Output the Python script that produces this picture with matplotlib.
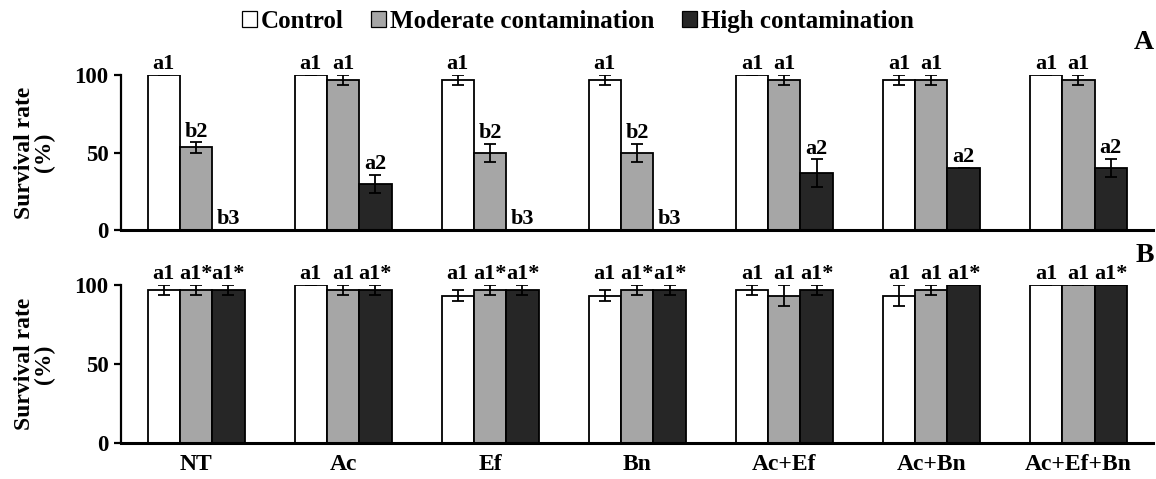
import matplotlib.pyplot as plt
import numpy as np
from matplotlib.patches import Patch

plt.rcParams["font.family"] = ["Liberation Serif", "DejaVu Serif"]
plt.rcParams["font.weight"] = "bold"

GROUPS = ["NT", "Ac", "Ef", "Bn", "Ac+Ef", "Ac+Bn", "Ac+Ef+Bn"]
SERIES = ["Control", "Moderate contamination", "High contamination"]
COLORS = ["#ffffff", "#a6a6a6", "#262626"]

# panel A
a_control = [100.0, 100.0, 96.7, 96.7, 100.0, 96.7, 100.0]
a_control_err = [0.0, 0.0, 3.3, 3.3, 0.0, 3.3, 0.0]
a_moderate = [53.3, 96.7, 50.0, 50.0, 96.7, 96.7, 96.7]
a_moderate_err = [3.3, 3.3, 5.8, 5.8, 3.3, 3.3, 3.3]
a_high = [0.0, 30.0, 0.0, 0.0, 36.7, 40.0, 40.0]
a_high_err = [0.0, 5.8, 0.0, 0.0, 8.8, 0.0, 5.8]
a_labels = [
    ["a1", "a1", "a1", "a1", "a1", "a1", "a1"],
    ["b2", "a1", "b2", "b2", "a1", "a1", "a1"],
    ["b3", "a2", "b3", "b3", "a2", "a2", "a2"],
]

# panel B
b_control = [96.7, 100.0, 93.3, 93.3, 96.7, 93.3, 100.0]
b_control_err = [3.3, 0.0, 3.3, 3.3, 3.3, 6.7, 0.0]
b_moderate = [96.7, 96.7, 96.7, 96.7, 93.3, 96.7, 100.0]
b_moderate_err = [3.3, 3.3, 3.3, 3.3, 6.7, 3.3, 0.0]
b_high = [96.7, 96.7, 96.7, 96.7, 96.7, 100.0, 100.0]
b_high_err = [3.3, 3.3, 3.3, 3.3, 3.3, 0.0, 0.0]
b_labels = [
    ["a1", "a1", "a1", "a1", "a1", "a1", "a1"],
    ["a1*", "a1", "a1*", "a1*", "a1", "a1", "a1"],
    ["a1*", "a1*", "a1*", "a1*", "a1*", "a1*", "a1*"],
]


def draw_panel(ax, values, errors, labels, label_row=None):
    x = np.arange(len(GROUPS))
    width = 0.22
    for i, (vals, errs, labs) in enumerate(zip(values, errors, labels)):
        pos = x + (i - 1) * width
        ax.bar(pos, vals, width=width, color=COLORS[i], edgecolor="black",
               linewidth=1.3, zorder=2)
        ax.errorbar(pos, vals, yerr=errs, fmt="none", ecolor="black",
                    elinewidth=1.3, capsize=4, capthick=1.3, zorder=3)
        for p, v, e, t in zip(pos, vals, errs, labs):
            ty = label_row if label_row is not None else v + e
            ax.annotate(t, (p, ty), xytext=(0, 4), textcoords="offset points",
                        ha="center", va="baseline", fontsize=16, fontweight="bold",
                        annotation_clip=False)
    ax.set_xlim(-0.51, len(GROUPS) - 0.49)
    ax.set_ylim(0, 100)
    ax.set_yticks([0, 50, 100])
    ax.set_xticks(x)
    for s in ["top", "right"]:
        ax.spines[s].set_visible(False)
    ax.spines["left"].set_linewidth(1.6)
    ax.spines["bottom"].set_linewidth(2.2)
    ax.tick_params(axis="y", direction="out", length=5, width=1.6, labelsize=16.5, pad=4)
    ax.tick_params(axis="x", length=0, labelsize=17, pad=8)
    ax.set_ylabel("Survival rate\n(%)", fontsize=17, fontweight="bold", linespacing=0.9)
    ax.yaxis.set_label_coords(-0.064, 0.5)


fig = plt.figure(figsize=(11.56, 4.79), dpi=100)
ax_a = fig.add_axes([0.1047, 0.5198, 0.893, 0.3236])
ax_b = fig.add_axes([0.1047, 0.0752, 0.893, 0.3299])

draw_panel(ax_a, [a_control, a_moderate, a_high],
           [a_control_err, a_moderate_err, a_high_err], a_labels)
draw_panel(ax_b, [b_control, b_moderate, b_high],
           [b_control_err, b_moderate_err, b_high_err], b_labels, label_row=100)
ax_a.set_xticklabels([])
ax_b.set_xticklabels(GROUPS, fontweight="bold")

fig.text(0.998, 0.912, "A", fontsize=20, fontweight="bold", ha="right", va="center")
fig.text(0.998, 0.466, "B", fontsize=20, fontweight="bold", ha="right", va="center")

handles = [Patch(facecolor=c, edgecolor="black", linewidth=0.9) for c in COLORS]
fig.legend(handles, SERIES, loc="center", bbox_to_anchor=(0.5, 0.956), ncol=3,
           frameon=False, handlelength=0.6, handleheight=0.6,
           handletextpad=0.15, columnspacing=1.1, borderaxespad=0,
           prop={"weight": "bold", "size": 18})

fig.savefig("out.png", dpi=100)
